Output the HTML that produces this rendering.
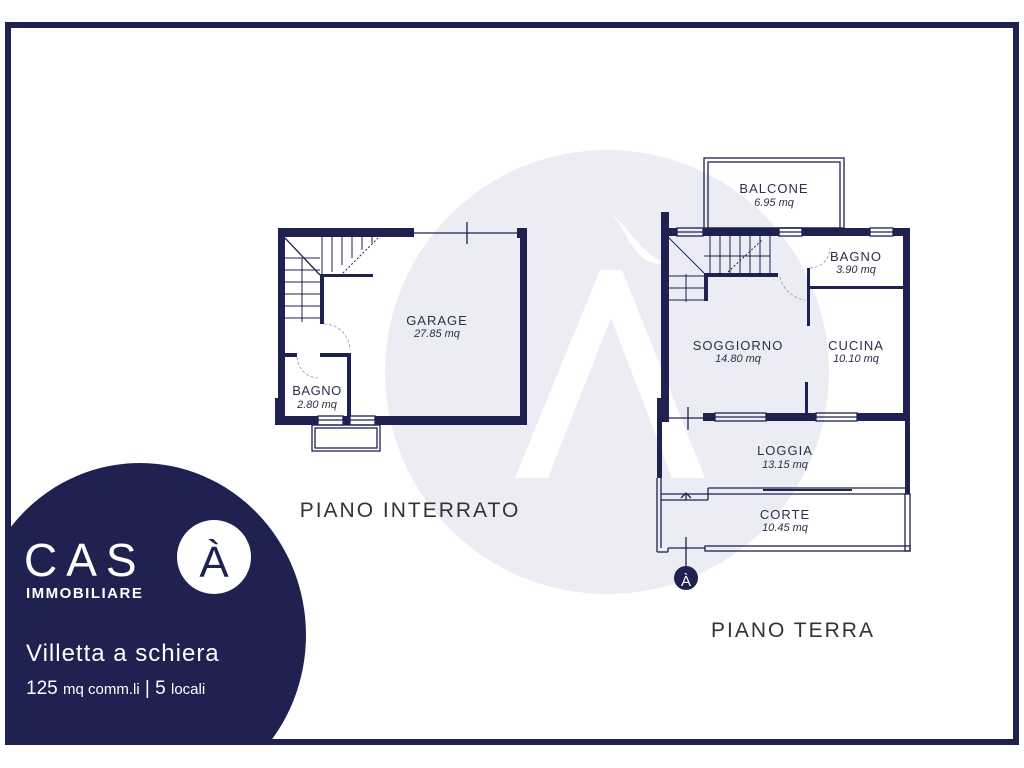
<!DOCTYPE html>
<html><head><meta charset="utf-8"><style>
html,body{margin:0;padding:0;background:#fff;width:1024px;height:768px;overflow:hidden;position:relative}
svg{display:block;position:absolute;left:0;top:0}
text{font-family:"Liberation Sans",sans-serif}
</style></head><body>
<svg width="1024" height="768" viewBox="0 0 1024 768" xmlns="http://www.w3.org/2000/svg" overflow="hidden">
<rect x="0" y="0" width="1024" height="768" fill="#fff"/>
<circle cx="607" cy="372" r="222" fill="#ececf4"/>
<polygon points="600,270 622,270 705,478 672,478 611,318 548,478 515,478" fill="#fff"/>
<path d="M598,202 C620,215 625,240 640,255 C650,265 660,265 665,262 C640,255 630,225 598,202 Z" fill="#fff"/>
<rect x="8" y="25" width="1008" height="717" fill="none" stroke="#1f2150" stroke-width="6"/>
<clipPath id="fc"><rect x="8" y="25" width="1008" height="717"/></clipPath>
<g clip-path="url(#fc)">
<ellipse cx="140" cy="635" rx="166" ry="172" fill="#1f2150"/>
<rect x="5" y="600" width="140" height="145" fill="#1f2150"/>
</g>
<text x="24" y="576" fill="#fff" font-size="46" letter-spacing="9">CAS</text>
<circle cx="214" cy="557" r="37" fill="#fff"/>
<text x="214" y="577" fill="#1f2150" font-size="44" text-anchor="middle">À</text>
<text x="26" y="598" fill="#fff" font-size="15" font-weight="bold" letter-spacing="1.5">IMMOBILIARE</text>
<text x="26" y="661" fill="#fff" font-size="24" letter-spacing="1">Villetta a schiera</text>
<text x="26" y="694" fill="#fff" font-size="19">125 <tspan font-size="15">mq comm.li</tspan> | 5 <tspan font-size="15">locali</tspan></text>

<g fill="#1f2150">
<rect x="278" y="228" width="136" height="9"/>
<rect x="517" y="228" width="10" height="10"/>
<rect x="520" y="228" width="7" height="197"/>
<rect x="278" y="228" width="7" height="197"/>
<rect x="275" y="398" width="4" height="27"/>
<rect x="276" y="416" width="42" height="9"/>
<rect x="343" y="416" width="7" height="9"/>
<rect x="375" y="416" width="152" height="9"/>
<rect x="347" y="353" width="4" height="63"/>
<rect x="284" y="353" width="13" height="4"/>
<rect x="320" y="353" width="30" height="4"/>
<rect x="320" y="276" width="4" height="48"/>
<rect x="320" y="274" width="53" height="3"/>
<rect x="661" y="212" width="8" height="210"/>
<rect x="657" y="398" width="5" height="80"/>
<rect x="669" y="228" width="8" height="8"/>
<rect x="703" y="228" width="76" height="8"/>
<rect x="802" y="228" width="68" height="8"/>
<rect x="893" y="228" width="17" height="8"/>
<rect x="903" y="228" width="7" height="193"/>
<rect x="905" y="421" width="5" height="73"/>
<rect x="807" y="268" width="3" height="58"/>
<rect x="805" y="382" width="3" height="32"/>
<rect x="807" y="286" width="96" height="3"/>
<rect x="704" y="273" width="74" height="4"/>
<rect x="704" y="273" width="4" height="28"/>
<rect x="703" y="413" width="12" height="8"/>
<rect x="766" y="413" width="50" height="8"/>
<rect x="857" y="413" width="53" height="8"/>
<rect x="660" y="413" width="8" height="8"/>
<circle cx="686" cy="578" r="12"/>
</g>
<g fill="none" stroke="#1f2150" stroke-width="1.3">
<line x1="414" y1="233" x2="519" y2="233"/>
<line x1="467" y1="222" x2="467" y2="244"/>
<rect x="318" y="416" width="25" height="9"/><line x1="318" y1="420" x2="343" y2="420"/>
<rect x="350" y="416" width="25" height="9"/><line x1="350" y1="420" x2="375" y2="420"/>
<rect x="312" y="425" width="68" height="26"/><rect x="315" y="428" width="62" height="20"/>
<line x1="285" y1="238" x2="320" y2="275"/>
<g stroke-width="1">
<line x1="285" y1="258" x2="320" y2="258"/><line x1="285" y1="270" x2="320" y2="270"/><line x1="285" y1="282" x2="320" y2="282"/><line x1="285" y1="294" x2="320" y2="294"/><line x1="285" y1="306" x2="320" y2="306"/><line x1="285" y1="318" x2="320" y2="318"/>
<line x1="302" y1="258" x2="302" y2="322"/>
<line x1="322" y1="237" x2="322" y2="274"/><line x1="332" y1="237" x2="332" y2="272"/><line x1="342" y1="237" x2="342" y2="265"/><line x1="352" y1="237" x2="352" y2="258"/><line x1="362" y1="237" x2="362" y2="250"/><line x1="372" y1="237" x2="372" y2="243"/>
<line x1="340" y1="276" x2="378" y2="238" stroke-dasharray="2,2"/>
<path d="M324,324 A26 26 0 0 1 350 350" stroke="#aaa" stroke-dasharray="3,2"/>
<path d="M297,357 A22 22 0 0 0 318 378" stroke="#aaa" stroke-dasharray="3,2"/>
</g>
<rect x="704" y="158" width="140" height="70"/><rect x="708" y="162" width="132" height="66"/>
<rect x="677" y="228" width="26" height="8"/><line x1="677" y1="232" x2="703" y2="232"/>
<rect x="779" y="228" width="23" height="8"/><line x1="779" y1="232" x2="802" y2="232"/>
<rect x="870" y="228" width="23" height="8"/><line x1="870" y1="232" x2="893" y2="232"/>
<rect x="715" y="413" width="51" height="8"/><line x1="715" y1="417" x2="766" y2="417"/>
<rect x="816" y="413" width="41" height="8"/><line x1="816" y1="417" x2="857" y2="417"/>
<line x1="668" y1="418" x2="703" y2="418"/><line x1="688" y1="407" x2="688" y2="430"/>
<g stroke-width="1">
<line x1="669" y1="238" x2="704" y2="273"/>
<line x1="669" y1="276" x2="704" y2="276"/><line x1="669" y1="288" x2="704" y2="288"/><line x1="669" y1="300" x2="704" y2="300"/>
<line x1="686" y1="274" x2="686" y2="302"/>
<line x1="710" y1="236" x2="710" y2="273"/><line x1="720" y1="236" x2="720" y2="273"/><line x1="730" y1="236" x2="730" y2="273"/><line x1="740" y1="236" x2="740" y2="273"/><line x1="750" y1="236" x2="750" y2="273"/><line x1="760" y1="236" x2="760" y2="273"/><line x1="770" y1="236" x2="770" y2="273"/>
<line x1="704" y1="256" x2="770" y2="256"/>
<line x1="728" y1="272" x2="762" y2="240" stroke-dasharray="2,2"/>
<path d="M780,277 A30 30 0 0 0 805 300" stroke="#aaa" stroke-dasharray="3,2"/>
<path d="M810,268 A20 20 0 0 0 830 248" stroke="#aaa" stroke-dasharray="3,2"/>
</g>
<line x1="657" y1="478" x2="657" y2="552"/><line x1="661" y1="478" x2="661" y2="548"/>
<line x1="661" y1="494" x2="905" y2="494"/>
<line x1="708" y1="488" x2="910" y2="488"/><line x1="708" y1="488" x2="708" y2="500"/>
<line x1="661" y1="500" x2="708" y2="500"/>
<line x1="763" y1="490" x2="852" y2="490" stroke-width="2"/>
<path d="M681,498 L686,493 L691,498 M686,493 V500"/>
<rect x="905" y="494" width="5" height="57"/>
<line x1="657" y1="552" x2="668" y2="552"/><line x1="668" y1="548" x2="668" y2="552"/>
<line x1="668" y1="548" x2="705" y2="548"/>
<rect x="705" y="546" width="205" height="5"/>
<line x1="686" y1="537" x2="686" y2="566"/>
</g>
<text x="686" y="586" fill="#fff" font-size="15" text-anchor="middle">À</text>
<g fill="#2c2f4a" text-anchor="middle">
<text x="437" y="325" font-size="13" letter-spacing="1">GARAGE</text>
<text x="437" y="337" font-size="11" font-style="italic">27.85 mq</text>
<text x="317" y="395" font-size="13" letter-spacing="0.5">BAGNO</text>
<text x="317" y="408" font-size="11" font-style="italic">2.80 mq</text>
<text x="774" y="193" font-size="13" letter-spacing="1">BALCONE</text>
<text x="774" y="206" font-size="11" font-style="italic">6.95 mq</text>
<text x="856" y="261" font-size="13" letter-spacing="1">BAGNO</text>
<text x="856" y="273" font-size="11" font-style="italic">3.90 mq</text>
<text x="738" y="350" font-size="13" letter-spacing="1">SOGGIORNO</text>
<text x="738" y="362" font-size="11" font-style="italic">14.80 mq</text>
<text x="856" y="350" font-size="13" letter-spacing="1">CUCINA</text>
<text x="856" y="362" font-size="11" font-style="italic">10.10 mq</text>
<text x="785" y="455" font-size="13" letter-spacing="1">LOGGIA</text>
<text x="785" y="468" font-size="11" font-style="italic">13.15 mq</text>
<text x="785" y="519" font-size="13" letter-spacing="1">CORTE</text>
<text x="785" y="531" font-size="11" font-style="italic">10.45 mq</text>
<text x="410" y="517" font-size="21" letter-spacing="2" fill="#333">PIANO INTERRATO</text>
<text x="793" y="637" font-size="21" letter-spacing="2" fill="#333">PIANO TERRA</text>
</g>
</svg>
</body></html>
